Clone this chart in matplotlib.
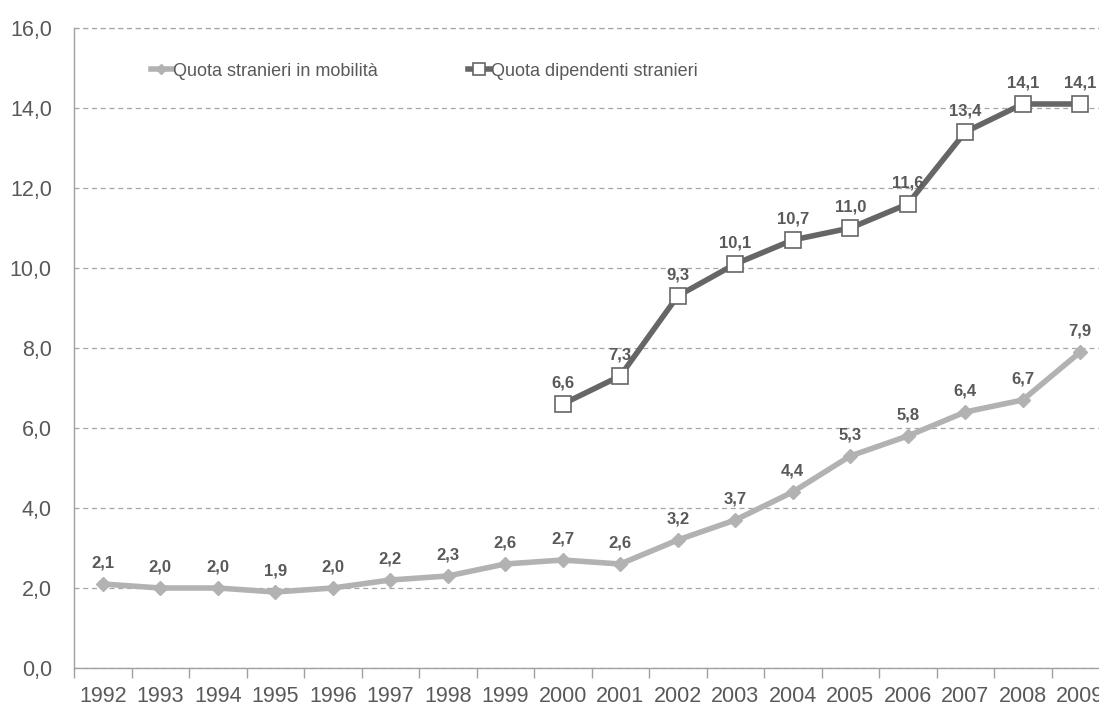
import numpy as np
import matplotlib.pyplot as plt
from matplotlib.ticker import FixedLocator, FuncFormatter

plt.rcParams['font.family'] = ['Liberation Sans', 'DejaVu Sans']

years = list(range(1992, 2010))
quota_mobilita = [2.1, 2.0, 2.0, 1.9, 2.0, 2.2, 2.3, 2.6, 2.7, 2.6,
                  3.2, 3.7, 4.4, 5.3, 5.8, 6.4, 6.7, 7.9]
anni_dipendenti = list(range(2000, 2010))
quota_dipendenti = [6.6, 7.3, 9.3, 10.1, 10.7, 11.0, 11.6, 13.4, 14.1, 14.1]

light = '#b2b2b2'
dark = '#666666'
text_col = '#595959'

fig = plt.figure(figsize=(10.99, 7.09), dpi=100)
# plot area runs slightly past the right edge, so the last year gets cut
ax = fig.add_axes([74 / 1099, 41 / 709, 1035 / 1099, 640 / 709])

x1 = np.arange(len(years))
x2 = np.array([years.index(a) for a in anni_dipendenti])

ax.plot(x1, quota_mobilita, color=light, lw=4, marker='D', ms=7,
        mfc=light, mec=light, label='Quota stranieri in mobilità', zorder=3)
ax.plot(x2, quota_dipendenti, color=dark, lw=4, marker='s', ms=11,
        mfc='white', mec=dark, mew=1.2, label='Quota dipendenti stranieri', zorder=3)

def fmt(v):
    return f'{v:.1f}'.replace('.', ',')

for xs, vals in [(x1, quota_mobilita), (x2, quota_dipendenti)]:
    for x, v in zip(xs, vals):
        ax.annotate(fmt(v), (x, v), xytext=(0, 15), textcoords='offset points',
                    ha='center', va='center', fontsize=12, fontweight='bold',
                    color=text_col, annotation_clip=False)

ax.set_xlim(-0.5, len(years) - 0.5)
ax.set_ylim(0, 16)
ax.set_yticks(np.arange(0, 17, 2))
ax.yaxis.set_major_formatter(FuncFormatter(lambda v, p: fmt(v)))
ax.tick_params(axis='y', length=0, labelsize=15.5, labelcolor=text_col, pad=16)

ax.set_xticks(x1)
ax.set_xticklabels([str(y) for y in years])
ax.xaxis.set_minor_locator(FixedLocator(np.arange(-0.5, len(years), 1)))
ax.tick_params(axis='x', which='major', length=0, labelsize=15.5,
               labelcolor=text_col, pad=13)
ax.tick_params(axis='x', which='minor', length=7, color='#a0a0a0', width=1)

ax.grid(axis='y', linestyle=(0, (4, 3)), color='#a6a6a6', lw=0.9)
ax.axhline(16, linestyle=(0, (4, 3)), color='#a6a6a6', lw=0.9, clip_on=False, zorder=0)
ax.set_axisbelow(True)
for s in ['top', 'right']:
    ax.spines[s].set_visible(False)
for s in ['left', 'bottom']:
    ax.spines[s].set_color('#a0a0a0')
    ax.spines[s].set_linewidth(1)

leg = ax.legend(loc='upper left', bbox_to_anchor=(0.074, 0.946), ncol=2,
                frameon=False, fontsize=13, handlelength=1.2, handletextpad=0.05,
                columnspacing=5.0, markerscale=0.8, borderaxespad=0, borderpad=0)
for t in leg.get_texts():
    t.set_color(text_col)

fig.savefig('out.png', dpi=100)
